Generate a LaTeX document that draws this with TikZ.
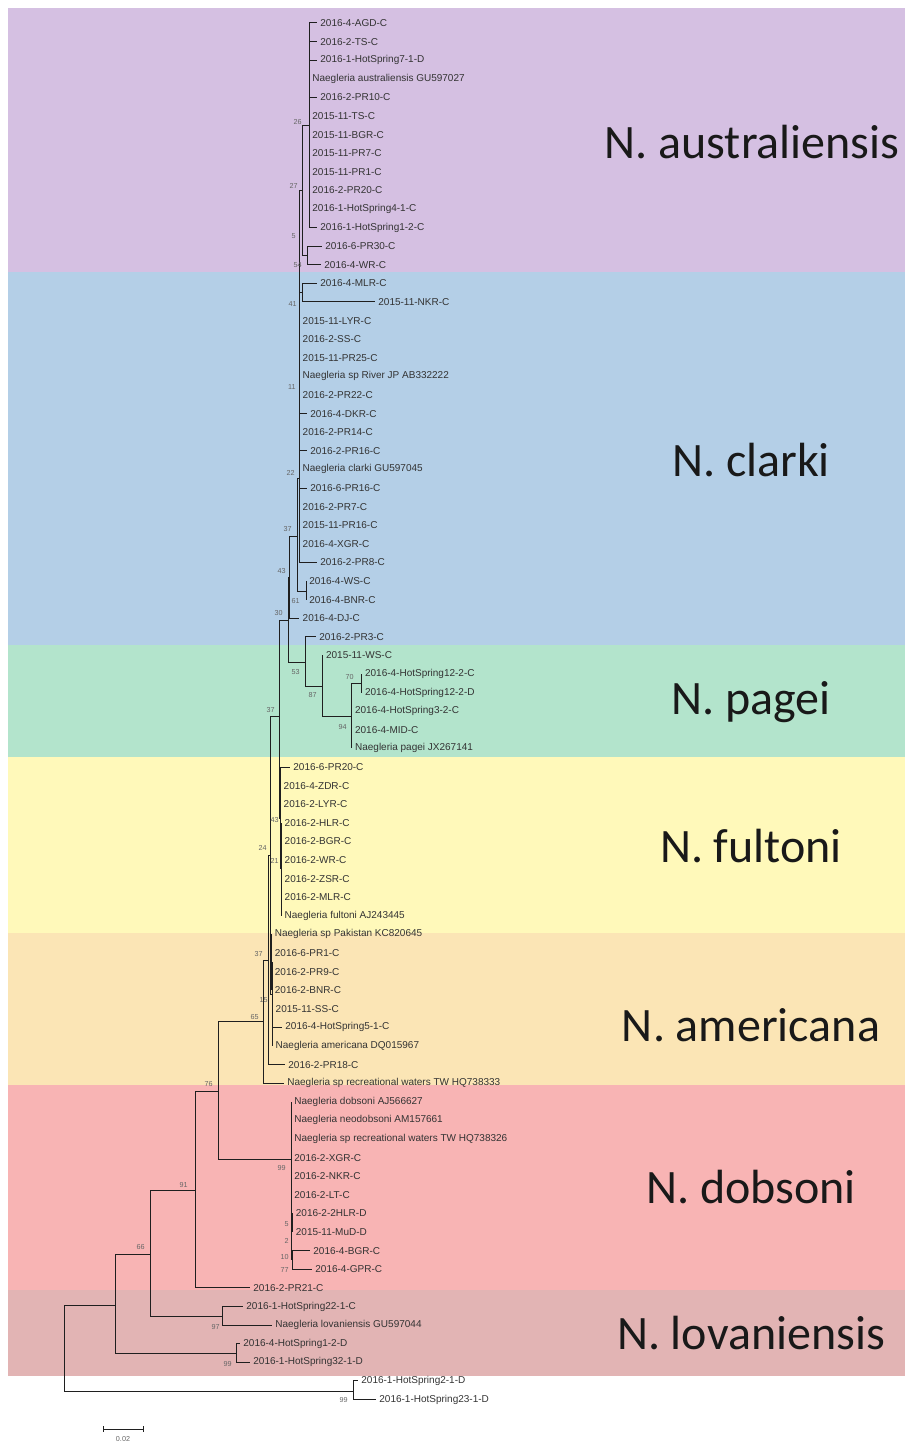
\documentclass[tikz,border=0pt]{standalone}
\usepackage{fontspec}
\setmainfont{Liberation Sans}
\newfontfamily\cladefont{Carlito}
\usetikzlibrary{calc}
\definecolor{bandaus}{RGB}{213,192,226}
\definecolor{bandcla}{RGB}{180,207,231}
\definecolor{bandpag}{RGB}{179,228,204}
\definecolor{bandful}{RGB}{255,249,186}
\definecolor{bandame}{RGB}{251,229,181}
\definecolor{banddob}{RGB}{248,180,180}
\definecolor{bandlov}{RGB}{226,180,180}
\begin{document}
\begin{tikzpicture}
  [
    x=0.5pt, y=-0.5pt,
    br/.style={draw=black!88, line width=0.5pt},
    leaf/.style={anchor=west, inner xsep=1.5pt, inner ysep=0.5pt,
      font=\fontsize{5}{6}\selectfont, text=black!80},
    boot/.style={anchor=east, inner sep=0pt,
      font=\fontsize{3.6}{4}\selectfont, text=black!60},
    clade/.style={font=\cladefont\fontsize{24}{28}\selectfont, text=black!90}
  ]
  \useasboundingbox (0,0) rectangle (905,1444);
  % colour bands
  \fill[bandaus] (8,8) rectangle (905,272);
  \fill[bandcla] (8,272) rectangle (905,645);
  \fill[bandpag] (8,645) rectangle (905,757);
  \fill[bandful] (8,757) rectangle (905,933);
  \fill[bandame] (8,933) rectangle (905,1085);
  \fill[banddob] (8,1085) rectangle (905,1290);
  \fill[bandlov] (8,1290) rectangle (905,1376);
  % clade names
  \node[clade] (cAus) at (752,142) {N. australiensis};
  \node[clade] (cCla) at (751,460) {N. clarki};
  \node[clade] (cPag) at (751,702) {N. pagei};
  \node[clade] (cFul) at (751,846) {N. fultoni};
  \node[clade] (cAme) at (751,1025) {N. americana};
  \node[clade] (cDob) at (751,1187) {N. dobsoni};
  \node[clade] (cLov) at (751,1333) {N. lovaniensis};
  % inner nodes
  \foreach \n/\x/\y in {nA/309/125.3, nC/307.7/255.5, nB/302/190.4, nE/302.7/292.7,
      nG/299.3/478, nWB/306/591.7, nK/297/536.7, nQ/289.3/577.5, nR/288.3/620,
      nS/305/662, nT/322.7/686.5, nU/351.7/716, nV/361.7/683, nP/279.3/716,
      nF/280.3/818, nFb/281.3/868.6, nN/270.7/855, nAm/271.5/962, nAmb/272.3/994,
      nW/268.3/960, nX/263.3/1021.5, nZ/218.3/1091, nD/291/1159, nDa/292.5/1222,
      nDb/292/1259.5, nY/195/1190, nH/150.7/1254.7, nL/222.7/1316, nI/115.7/1305,
      nM/236/1353, nO/353/1391, nRoot/64/1348} {
      \coordinate (\n) at (\x,\y);
  }
  \foreach \a/\b in {nRoot/nI, nRoot/nO, nI/nH, nI/nM, nH/nY, nH/nL, nY/nZ,
      nZ/nX, nZ/nD, nX/nW, nW/nN, nN/nP, nN/nAmb, nAmb/nAm, nP/nR, nP/nF,
      nF/nFb, nR/nQ, nR/nS, nQ/nK, nK/nG, nK/nWB, nG/nB, nG/nE, nB/nA, nB/nC,
      nS/nT, nT/nU, nU/nV, nD/nDa, nD/nDb} {
      \draw[br] (\a) |- (\b);
  }
  % leaves
  \foreach \r/\t/\p/\s in {1/317/nA/2016-4-AGD-C, 2/317/nA/2016-2-TS-C,
      3/317/nA/2016-1-HotSpring7-1-D, 4/309/nA/Naegleria australiensis GU597027,
      5/317/nA/2016-2-PR10-C, 6/309/nA/2015-11-TS-C, 7/309/nA/2015-11-BGR-C,
      8/309/nA/2015-11-PR7-C, 9/309/nA/2015-11-PR1-C, 10/309/nA/2016-2-PR20-C,
      11/309/nA/2016-1-HotSpring4-1-C, 12/317/nA/2016-1-HotSpring1-2-C,
      13/322/nC/2016-6-PR30-C, 14/321/nC/2016-4-WR-C,
      15/317/nE/2016-4-MLR-C, 16/375/nE/2015-11-NKR-C,
      17/299.3/nG/2015-11-LYR-C, 18/299.3/nG/2016-2-SS-C, 19/299.3/nG/2015-11-PR25-C,
      20/299.3/nG/Naegleria sp River JP AB332222, 21/299.3/nG/2016-2-PR22-C,
      22/307/nG/2016-4-DKR-C, 23/299.3/nG/2016-2-PR14-C, 24/307/nG/2016-2-PR16-C,
      25/299.3/nG/Naegleria clarki GU597045,
      26/307/nG/2016-6-PR16-C, 27/299.3/nG/2016-2-PR7-C, 28/299.3/nG/2015-11-PR16-C,
      29/299.3/nG/2016-4-XGR-C, 30/317/nG/2016-2-PR8-C,
      31/306/nWB/2016-4-WS-C, 32/306/nWB/2016-4-BNR-C, 33/299.3/nQ/2016-4-DJ-C,
      34/316/nS/2016-2-PR3-C, 35/322.7/nT/2015-11-WS-C,
      36/361.7/nV/2016-4-HotSpring12-2-C, 37/361.7/nV/2016-4-HotSpring12-2-D,
      38/351.7/nU/2016-4-HotSpring3-2-C, 39/351.7/nU/2016-4-MID-C,
      40/351.7/nU/Naegleria pagei JX267141,
      41/290/nF/2016-6-PR20-C, 42/280.3/nF/2016-4-ZDR-C, 43/280.3/nF/2016-2-LYR-C,
      44/281.3/nFb/2016-2-HLR-C, 45/281.3/nFb/2016-2-BGR-C, 46/281.3/nFb/2016-2-WR-C,
      47/281.3/nFb/2016-2-ZSR-C, 48/281.3/nFb/2016-2-MLR-C,
      49/281.3/nFb/Naegleria fultoni AJ243445,
      50/271.5/nAm/Naegleria sp Pakistan KC820645, 51/271.5/nAm/2016-6-PR1-C,
      52/271.5/nAm/2016-2-PR9-C, 53/271.5/nAm/2016-2-BNR-C,
      54/272.3/nAmb/2015-11-SS-C, 55/282/nAmb/2016-4-HotSpring5-1-C,
      56/272.3/nAmb/Naegleria americana DQ015967,
      57/285/nW/2016-2-PR18-C, 58/284/nX/Naegleria sp recreational waters TW HQ738333,
      59/291/nD/Naegleria dobsoni AJ566627, 60/291/nD/Naegleria neodobsoni AM157661,
      61/291/nD/Naegleria sp recreational waters TW HQ738326,
      62/291/nD/2016-2-XGR-C, 63/291/nD/2016-2-NKR-C, 64/291/nD/2016-2-LT-C,
      65/292.5/nDa/2016-2-2HLR-D, 66/292.5/nDa/2015-11-MuD-D,
      67/310/nDb/2016-4-BGR-C, 68/312/nDb/2016-4-GPR-C,
      69/250/nY/2016-2-PR21-C, 70/243/nL/2016-1-HotSpring22-1-C,
      71/272/nL/Naegleria lovaniensis GU597044,
      72/240/nM/2016-4-HotSpring1-2-D, 73/250/nM/2016-1-HotSpring32-1-D,
      74/358/nO/2016-1-HotSpring2-1-D, 75/376/nO/2016-1-HotSpring23-1-D} {
      \node[leaf] (l\r) at (\t,{23+(\r-1)*18.6}) {\s};
      \draw[br] (\p) |- (l\r.west);
  }
  % bootstrap values
  \foreach \i/\x/\y/\v in {1/302/122.5/26, 2/298/185.5/27, 3/296/236.5/5, 4/302/265.5/54,
      5/297/304/41, 6/296/387/11, 7/295/473/22, 8/292/529.5/37, 9/286/571.5/43,
      10/300/601/61, 11/283/613/30, 12/300/672.5/53, 13/317/695.5/87,
      14/354/677.5/70, 15/347/727.5/94, 16/275/710.5/37, 17/279/820.5/43,
      18/279/861/21, 19/267/847.5/24, 20/263/954/37, 21/268/1000/15,
      22/259/1017/65, 23/213/1084.5/76, 24/286/1168.5/99, 25/289/1224/5,
      26/289/1240.5/2, 27/289/1257/10, 28/289/1270.5/77, 29/188/1185/91,
      30/145/1247.5/66, 31/220/1327.5/97, 32/232/1364.5/99, 33/348/1400.5/99} {
      \node[boot] (b\i) at (\x,\y) {\v};
  }
  % scale bar
  \coordinate (sL) at (103,1429);
  \coordinate (sR) at (143,1429);
  \draw[br] (sL) -- (sR);
  \draw[br] ($(sL)+(0,-3)$) -- ($(sL)+(0,3)$);
  \draw[br] ($(sR)+(0,-3)$) -- ($(sR)+(0,3)$);
  \node[boot, anchor=center] (scale) at (123,1439) {0.02};
\end{tikzpicture}
\end{document}
